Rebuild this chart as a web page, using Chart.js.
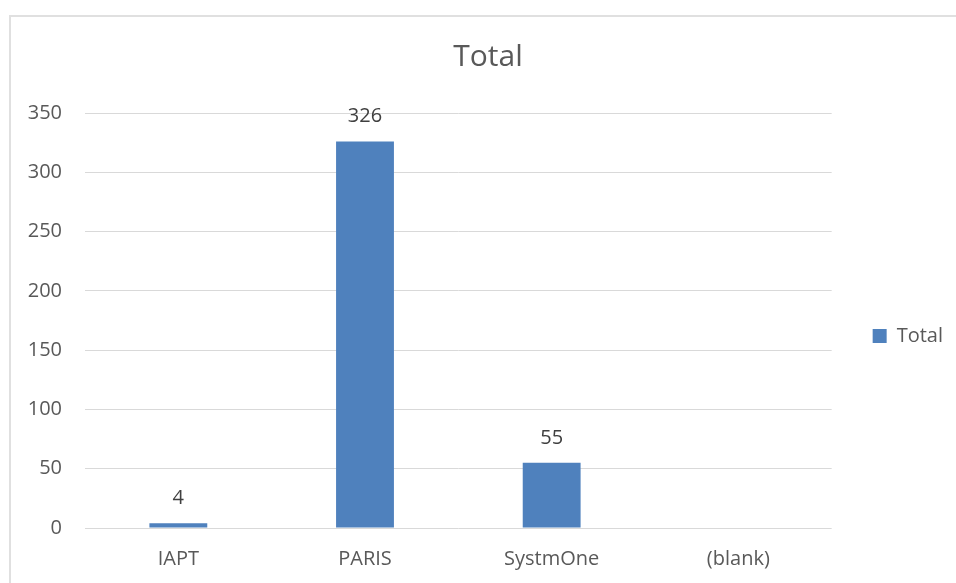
<!DOCTYPE html>
<html>
<head>
<meta charset="utf-8">
<script src="https://cdn.jsdelivr.net/npm/chart.js@4/dist/chart.umd.min.js"></script>
<style>
  html, body { margin: 0; padding: 0; background: #fff; overflow: hidden; }
  #frame {
    position: absolute; left: 9px; top: 15px;
    width: 2000px; height: 2000px;
    border-left: 2px solid #e0e0e0; border-top: 2px solid #e0e0e0;
  }
  #wrap { position: absolute; left: 0; top: 0; width: 956px; height: 583px; }
</style>
</head>
<body>
<div id="frame"></div>
<div id="wrap"><canvas id="chart"></canvas></div>
<script>
// chart data
const categories = ['IAPT', 'PARIS', 'SystmOne', '(blank)'];
const totals = [4, 326, 55, null];
const seriesName = 'Total';
const yTicks = [0, 50, 100, 150, 200, 250, 300, 350];

const textColor = '#595959';
const fontFamily = '"Open Sans", "Noto Sans", sans-serif';

// value labels above each bar
const barLabels = {
  id: 'barLabels',
  afterDatasetsDraw(chart) {
    const ctx = chart.ctx;
    const meta = chart.getDatasetMeta(0);
    ctx.save();
    ctx.font = '20px ' + fontFamily;
    ctx.fillStyle = '#404040';
    ctx.textAlign = 'center';
    ctx.textBaseline = 'alphabetic';
    meta.data.forEach((bar, i) => {
      const v = totals[i];
      if (v === null || v === undefined) return;
      ctx.fillText(String(v), bar.x, bar.y - 19);
    });
    ctx.restore();
  }
};

new Chart(document.getElementById('chart'), {
  type: 'bar',
  data: {
    labels: categories,
    datasets: [{
      label: seriesName,
      data: totals,
      backgroundColor: '#4f81bd',
      borderWidth: 0,
      categoryPercentage: 1,
      barPercentage: 0.31
    }]
  },
  options: {
    responsive: true,
    maintainAspectRatio: false,
    animation: false,
    layout: { padding: { left: 23, right: 3, top: 15, bottom: 0 } },
    plugins: {
      title: {
        display: true,
        text: 'Total',
        color: textColor,
        font: { family: fontFamily, size: 30, weight: 'normal' },
        padding: { top: 24, bottom: 38 }
      },
      legend: {
        position: 'right',
        fullSize: false,
        title: { display: true, text: ' ', font: { size: 10 }, padding: { top: 0, bottom: 19 } },
        labels: {
          boxWidth: 14,
          boxHeight: 14,
          padding: 41,
          color: textColor,
          font: { family: fontFamily, size: 20 }
        }
      },
      tooltip: { enabled: false }
    },
    scales: {
      x: {
        grid: { display: false, drawTicks: false },
        border: { display: false },
        ticks: { color: textColor, padding: 19, font: { family: fontFamily, size: 20 } },
        afterFit(scale) { scale.height = 55; }
      },
      y: {
        min: yTicks[0],
        max: yTicks[yTicks.length - 1],
        grid: { color: '#d9d9d9', lineWidth: 1, drawTicks: false },
        border: { display: false },
        afterBuildTicks(scale) { scale.ticks = yTicks.map(v => ({ value: v })); },
        ticks: { color: textColor, padding: 23, font: { family: fontFamily, size: 20 } },
        afterFit(scale) { scale.width = 62; }
      }
    }
  },
  plugins: [barLabels]
});
</script>
</body>
</html>
